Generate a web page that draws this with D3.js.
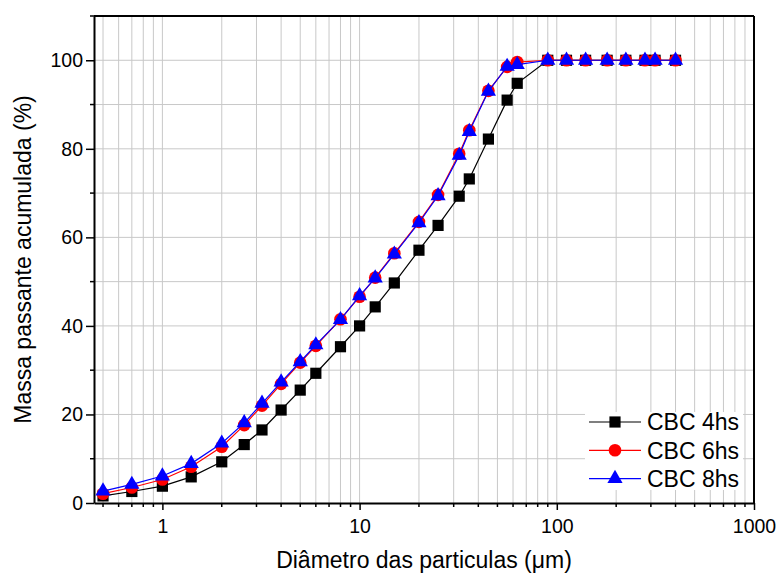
<!DOCTYPE html>
<meta charset="utf-8">
<script src="https://d3js.org/d3.v7.min.js"></script>
<style>
  body { margin: 0; background: #fff; }
  text { font-family: "Liberation Sans", Arial, sans-serif; fill: #000; }
</style>
<div id="chart"></div>
<script>

// particle diameters (um) and cumulative passing mass (%)
var diameters = [0.5, 0.7, 1, 1.4, 2, 2.6, 3.2, 4, 5, 6, 8, 10, 12, 15, 20, 25, 32, 36, 45, 56, 63, 90, 112, 140, 180, 224, 280, 315, 400];
var cbc4 = [1.6, 2.6, 3.8, 5.9, 9.3, 13.2, 16.5, 21.0, 25.5, 29.3, 35.3, 40.0, 44.3, 49.7, 57.1, 62.7, 69.3, 73.2, 82.2, 91.0, 94.8, 100, 100, 100, 100, 100, 100, 100, 100];
var cbc6 = [2.1, 3.5, 5.3, 8.2, 12.7, 17.6, 22.0, 26.9, 31.7, 35.5, 41.5, 46.6, 50.9, 56.4, 63.5, 69.6, 78.9, 84.2, 93.1, 98.5, 99.6, 100, 100, 100, 100, 100, 100, 100, 100];
var cbc8 = [2.7, 4.2, 6.1, 8.9, 13.5, 18.1, 22.5, 27.3, 31.9, 35.7, 41.4, 46.8, 50.8, 56.2, 63.3, 69.4, 78.5, 83.9, 93.0, 98.6, 99.0, 100, 100, 100, 100, 100, 100, 100, 100];
var seriesNames = ["CBC 4hs", "CBC 6hs", "CBC 8hs"];
var xTickValues = [1, 10, 100, 1000];
var yTickValues = [0, 20, 40, 60, 80, 100];

var W = 776, H = 573;
var margin = {top: 16, right: 22, bottom: 70, left: 94},
    width = W - margin.left - margin.right,
    height = H - margin.top - margin.bottom;

var svg = d3.select("#chart")
  .append("svg")
    .attr("width", W)
    .attr("height", H)
  .append("g")
    .attr("transform", "translate(" + margin.left + "," + margin.top + ")");

var x = d3.scaleLog()
  .domain([0.45, 1000])
  .range([0, width]);

var y = d3.scaleLinear()
  .domain([0, 110])
  .range([height, 0]);

// minor values for grid and small ticks
var xMinor = [];
[0.1, 1, 10, 100].forEach(function(dec) {
  for (var k = 2; k <= 9; k++) {
    var v = dec * k;
    if (v >= 0.45 && v < 1000) xMinor.push(v);
  }
});
var yMinor = [10, 30, 50, 70, 90];

// grid
var grid = svg.append("g").attr("class", "grid");
grid.selectAll("line.vx")
  .data(xMinor.concat([1, 10, 100]))
  .enter().append("line")
    .attr("x1", function(d) { return x(d); })
    .attr("x2", function(d) { return x(d); })
    .attr("y1", 0)
    .attr("y2", height)
    .attr("stroke", "#c8c8c8")
    .attr("stroke-width", 1);
grid.selectAll("line.hy")
  .data(yMinor.concat([20, 40, 60, 80, 100]))
  .enter().append("line")
    .attr("x1", 0)
    .attr("x2", width)
    .attr("y1", function(d) { return y(d); })
    .attr("y2", function(d) { return y(d); })
    .attr("stroke", "#c8c8c8")
    .attr("stroke-width", 1);

// legend background (covers the grid)
var legX = 491, legY = 396;
svg.append("rect")
  .attr("x", legX)
  .attr("y", legY)
  .attr("width", 158)
  .attr("height", 78)
  .attr("fill", "#fff");

// frame top and right
svg.append("line")
  .attr("x1", 0).attr("x2", width).attr("y1", 0).attr("y2", 0)
  .attr("stroke", "#000").attr("stroke-width", 2);
svg.append("line")
  .attr("x1", width).attr("x2", width).attr("y1", 0).attr("y2", height)
  .attr("stroke", "#000").attr("stroke-width", 2);

// axes
var xAxis = d3.axisBottom(x)
  .tickValues(xTickValues)
  .tickFormat(d3.format("d"))
  .tickSize(7)
  .tickSizeOuter(0);
var gx = svg.append("g")
  .attr("transform", "translate(0," + height + ")")
  .call(xAxis);
gx.selectAll("g.minor")
  .data(xMinor)
  .enter().append("line")
    .attr("x1", function(d) { return x(d); })
    .attr("x2", function(d) { return x(d); })
    .attr("y1", 0)
    .attr("y2", 4)
    .attr("stroke", "#000")
    .attr("stroke-width", 1.5);

var yAxis = d3.axisLeft(y)
  .tickValues(yTickValues)
  .tickSize(8)
  .tickSizeOuter(0);
var gy = svg.append("g").call(yAxis);
gy.selectAll("g.minor")
  .data(yMinor.concat([110]))
  .enter().append("line")
    .attr("x1", -4)
    .attr("x2", 0)
    .attr("y1", function(d) { return y(d); })
    .attr("y2", function(d) { return y(d); })
    .attr("stroke", "#000")
    .attr("stroke-width", 1.5);

[gx, gy].forEach(function(g) {
  g.select(".domain").attr("stroke-width", 2);
  g.selectAll(".tick line").attr("stroke-width", 1.5);
  g.selectAll(".tick text")
    .style("font-family", '"Liberation Sans", Arial, sans-serif')
    .style("font-size", "19.5px");
});
gx.selectAll(".tick text").attr("dy", "1.0em");
gy.selectAll(".tick text").attr("x", -11);

// axis titles
svg.append("text")
  .attr("x", width / 2)
  .attr("y", height + 65)
  .attr("text-anchor", "middle")
  .style("font-size", "23px")
  .text("Diâmetro das particulas (μm)");

svg.append("text")
  .attr("transform", "translate(" + (-63) + "," + (height / 2) + ") rotate(-90)")
  .attr("text-anchor", "middle")
  .style("font-size", "23px")
  .text("Massa passante acumulada (%)");

// series
var series = [
  {name: seriesNames[0], values: cbc4, color: "#000000", symbol: d3.symbolSquare, size: 125},
  {name: seriesNames[1], values: cbc6, color: "#ff0000", symbol: d3.symbolCircle, size: 125},
  {name: seriesNames[2], values: cbc8, color: "#0000ff", symbol: d3.symbolTriangle, size: 100}
];

var line = d3.line()
  .x(function(d) { return x(d[0]); })
  .y(function(d) { return y(d[1]); });

series.forEach(function(s) {
  var pts = diameters.map(function(d, i) { return [d, s.values[i]]; });
  var g = svg.append("g");
  g.append("path")
    .datum(pts)
    .attr("d", line)
    .attr("fill", "none")
    .attr("stroke", s.color)
    .attr("stroke-width", 1.2);
  g.selectAll("path.pt")
    .data(pts)
    .enter().append("path")
      .attr("class", "pt")
      .attr("transform", function(d) { return "translate(" + x(d[0]) + "," + y(d[1]) + ")"; })
      .attr("d", d3.symbol().type(s.symbol).size(s.size))
      .attr("fill", s.color);
});

// legend
var leg = svg.append("g").attr("transform", "translate(" + legX + "," + legY + ")");
series.forEach(function(s, i) {
  var ly = 10 + i * 28.3;
  leg.append("line")
    .attr("x1", 4).attr("x2", 56)
    .attr("y1", ly).attr("y2", ly)
    .attr("stroke", s.color)
    .attr("stroke-width", 1.2);
  leg.append("path")
    .attr("transform", "translate(30," + ly + ")")
    .attr("d", d3.symbol().type(s.symbol).size(s.size))
    .attr("fill", s.color);
  leg.append("text")
    .attr("x", 62)
    .attr("y", ly)
    .attr("dy", "0.36em")
    .style("font-size", "23px")
    .text(s.name);
});

</script>
